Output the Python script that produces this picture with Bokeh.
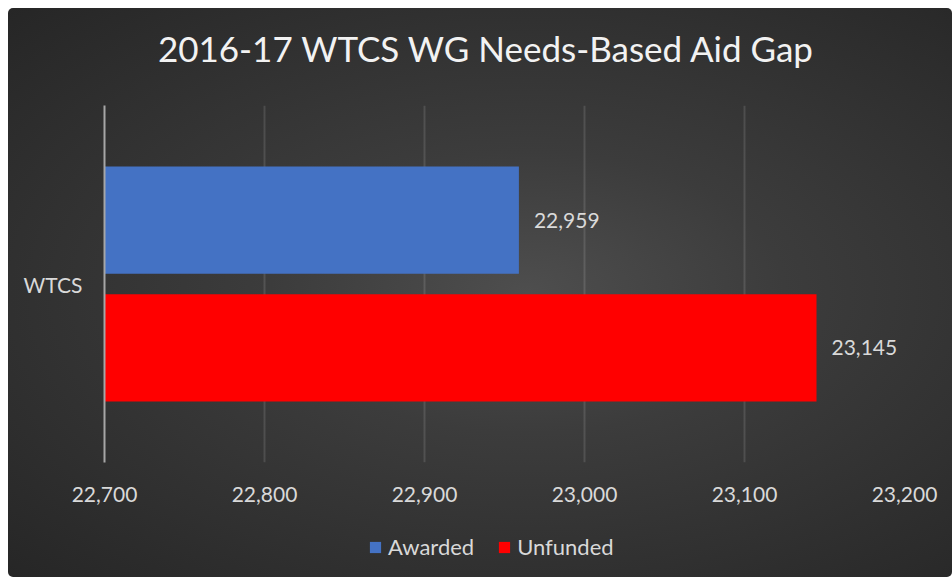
from bokeh.plotting import figure
from bokeh.layouts import column
from bokeh.models import (ColumnDataSource, FactorRange, Range1d, Legend, LegendItem,
                          LabelSet, Label, NumeralTickFormatter, FixedTicker)
from bokeh.core.properties import value
from bokeh.transform import dodge
from bokeh.embed import file_html
from bokeh.resources import INLINE

# ---- data ----
title_text = "2016-17 WTCS WG Needs-Based Aid Gap"
categories = ["WTCS"]
series_names = ["Awarded", "Unfunded"]
awarded = [22959]
unfunded = [23145]
series_colors = ["#4472C4", "#FF0000"]
x_ticks = [22700, 22800, 22900, 23000, 23100, 23200]

x_start, x_end = x_ticks[0], x_ticks[-1]
FONT = "Lato"
TEXT = "#d9d9d9"
W = 944
BL, BR = 96, 48                # side borders shared by all three strips
FW = W - BL - BR               # frame width (800)
TOP_H, MAIN_H, LEG_H = 97, 401, 71


def clean(fig):
    fig.background_fill_alpha = 0
    fig.border_fill_alpha = 0
    fig.outline_line_color = None
    return fig


# ---- title strip ----
p0 = clean(figure(width=W, height=TOP_H, x_range=Range1d(0, FW), y_range=Range1d(0, TOP_H),
                  x_axis_type=None, y_axis_type=None, min_border=0,
                  min_border_left=BL, min_border_right=BR,
                  output_backend="svg", toolbar_location=None))
p0.add_layout(Label(x=382, y=58, text=title_text, text_align="center", text_baseline="middle",
                    text_font=FONT, text_font_size="35px", text_color="#f2f2f2"))

# ---- main chart ----
src = ColumnDataSource(data=dict(
    cat=categories,
    awarded=awarded,
    unfunded=unfunded,
    awarded_lbl=[f"{v:,}" for v in awarded],
    unfunded_lbl=[f"{v:,}" for v in unfunded],
))

p = clean(figure(y_range=FactorRange(factors=categories), x_range=Range1d(x_start, x_end),
                 width=W, height=MAIN_H, output_backend="svg", toolbar_location=None,
                 min_border_left=BL, min_border_right=BR, min_border_top=0, min_border_bottom=44))

bar_h = 0.30
off = 0.179
p.hbar(y=dodge("cat", off, range=p.y_range), left=x_start, right="awarded", height=bar_h,
       source=src, fill_color=series_colors[0], line_color=None)
p.hbar(y=dodge("cat", -off, range=p.y_range), left=x_start, right="unfunded", height=bar_h,
       source=src, fill_color=series_colors[1], line_color=None)

for col, d in (("awarded", off), ("unfunded", -off)):
    p.add_layout(LabelSet(x=col, y=dodge("cat", d, range=p.y_range), text=col + "_lbl", source=src,
                          x_offset=15, text_baseline="middle", text_align="left",
                          text_font=value(FONT), text_font_size=value("21px"), text_color=TEXT))

p.xaxis.ticker = FixedTicker(ticks=x_ticks)
p.xaxis.formatter = NumeralTickFormatter(format="0,0")
p.xaxis.axis_line_color = None
p.xaxis.major_tick_line_color = None
p.xaxis.minor_tick_line_color = None
p.xaxis.major_label_standoff = 18
p.xaxis.major_label_text_font = FONT
p.xaxis.major_label_text_font_size = "21px"
p.xaxis.major_label_text_color = TEXT

p.yaxis.axis_line_color = "#a6a6a6"
p.yaxis.axis_line_width = 2
p.yaxis.major_tick_line_color = None
p.yaxis.minor_tick_line_color = None
p.yaxis.major_label_standoff = 16
p.yaxis.major_label_text_font = FONT
p.yaxis.major_label_text_font_size = "21px"
p.yaxis.major_label_text_color = TEXT

p.ygrid.grid_line_color = None
p.xgrid.grid_line_color = "#ffffff"
p.xgrid.grid_line_alpha = 0.12
p.xgrid.grid_line_width = 2

# ---- legend strip (its zero-height bars fall outside its own range; only the legend shows) ----
span = x_end - x_start
p2 = clean(figure(width=W, height=LEG_H, x_range=Range1d(x_end, x_end + span),
                  y_range=FactorRange(factors=categories),
                  x_axis_type=None, y_axis_type=None, min_border=0,
                  min_border_left=BL, min_border_right=BR,
                  output_backend="svg", toolbar_location=None))
lr1 = p2.hbar(y="cat", left=x_start, right="awarded", height=0, source=src,
              fill_color=series_colors[0], line_color=None)
lr2 = p2.hbar(y="cat", left=x_start, right="unfunded", height=0, source=src,
              fill_color=series_colors[1], line_color=None)
legend = Legend(items=[LegendItem(label=series_names[0], renderers=[lr1]),
                       LegendItem(label=series_names[1], renderers=[lr2])],
                orientation="horizontal", location=(264, 17),
                background_fill_alpha=0, border_line_alpha=0,
                label_text_font=FONT, label_text_font_size="22px", label_text_color=TEXT,
                glyph_width=14, glyph_height=14, spacing=23, label_standoff=6,
                margin=0, padding=0)
p2.add_layout(legend, "center")

layout = column(p0, p, p2, spacing=0,
                styles={"background": "radial-gradient(ellipse at 55% 50%, #4e4e4e 0%, #3c3c3c 35%, #262626 100%)",
                        "border-radius": "5px", "margin-left": "8px", "margin-top": "8px"})

open("out.html", "w").write(file_html(layout, INLINE))
